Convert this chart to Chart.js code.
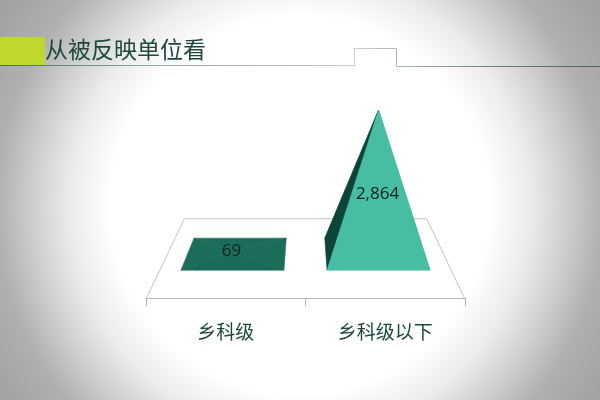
<!DOCTYPE html>
<html>
<head>
<meta charset="utf-8">
<script src="https://cdn.jsdelivr.net/npm/chart.js@4"></script>
<style>
    html, body { margin: 0; padding: 0; }
    body {
        width: 600px;
        height: 400px;
        overflow: hidden;
        background: radial-gradient(circle 370px at 300px 205px, #ffffff 0%, #ffffff 51%, #ececec 62%, #cfcfcf 72%, #b0b0b0 82%, #9e9e9e 100%);
    }
    #box { width: 600px; height: 400px; position: relative; }
</style>
</head>
<body>
<div id="box"><canvas id="chart"></canvas></div>
<script>
const titleText = '从被反映单位看';
const categories = ['乡科级', '乡科级以下'];
const values = [69, 2864];
const valueLabels = ['69', '2,864'];

const textColor = '#1d483e';
const faceColors = [
    { front: '#1a6c59', left: '#1b6d5a', right: '#1b6d5a', back: '#1b6d5a' },
    { front: '#47bda3', left: '#0d4438', right: '#47bda3', back: '#47bda3' }
];

function fillPoly(ctx, points, color) {
    ctx.beginPath();
    points.forEach((p, i) => i ? ctx.lineTo(p[0], p[1]) : ctx.moveTo(p[0], p[1]));
    ctx.closePath();
    ctx.fillStyle = color;
    ctx.strokeStyle = color;
    ctx.lineWidth = 0.6;
    ctx.fill();
    ctx.stroke();
}

// floor perspective: everything shrinks towards the middle as it goes back
function project(area, x, y) {
    const mid = (area.left + area.right) / 2;
    const s = 1 - 0.003 * (area.bottom - y);
    return [mid + (x - mid) * s, y];
}

const headerPlugin = {
    id: 'header',
    beforeDraw(chart) {
        const ctx = chart.ctx;
        ctx.save();
        ctx.fillStyle = '#c0d72f';
        ctx.fillRect(0, 37, 45, 29);

        const line = ctx.createLinearGradient(0, 0, 600, 0);
        line.addColorStop(0, '#4d6b63');
        line.addColorStop(0.25, '#8fa5a0');
        line.addColorStop(0.6, '#c4d0cd');
        line.addColorStop(0.8, '#71877f');
        line.addColorStop(1, '#4a5f59');
        ctx.strokeStyle = line;
        ctx.lineWidth = 1;
        ctx.beginPath();
        ctx.moveTo(0, 65.5);
        ctx.lineTo(354.5, 65.5);
        ctx.lineTo(354.5, 48.5);
        ctx.lineTo(396.5, 48.5);
        ctx.lineTo(396.5, 66.5);
        ctx.lineTo(600, 66.5);
        ctx.stroke();

        ctx.fillStyle = textColor;
        ctx.font = '23px "Noto Sans CJK SC"';
        ctx.textBaseline = 'middle';
        ctx.textAlign = 'left';
        ctx.fillText(titleText, 45, 49);
        ctx.restore();
    }
};

const floorPlugin = {
    id: 'floor',
    beforeDatasetsDraw(chart) {
        const ctx = chart.ctx;
        const a = chart.chartArea;
        const backY = a.bottom - 80;
        const bl = project(a, a.left, backY);
        const br = project(a, a.right, backY);
        ctx.save();
        ctx.strokeStyle = '#c4c4c4';
        ctx.lineWidth = 1;
        ctx.beginPath();
        ctx.moveTo(a.left + 0.5, a.bottom);
        ctx.lineTo(bl[0], backY + 0.5);
        ctx.lineTo(br[0], backY + 0.5);
        ctx.lineTo(a.right - 0.5, a.bottom);
        ctx.stroke();
        ctx.restore();
    }
};

const pyramidPlugin = {
    id: 'pyramid',
    afterDatasetsDraw(chart) {
        const ctx = chart.ctx;
        const a = chart.chartArea;
        const depth = 16;
        ctx.save();
        chart.getDatasetMeta(0).data.forEach((bar, i) => {
            const c = faceColors[i];
            const half = bar.width / 2;
            const baseY = bar.base;
            const fl = project(a, bar.x - half, baseY + depth);
            const fr = project(a, bar.x + half, baseY + depth);
            const bl = project(a, bar.x - half, baseY - depth);
            const br = project(a, bar.x + half, baseY - depth);
            const apex = [(fl[0] + fr[0]) / 2, bar.y];

            fillPoly(ctx, [bl, br, apex], c.back);
            fillPoly(ctx, [bl, fl, apex], c.left);
            fillPoly(ctx, [br, fr, apex], c.right);
            fillPoly(ctx, [fl, fr, apex], c.front);

            ctx.fillStyle = '#10211d';
            ctx.font = '17px "Open Sans"';
            ctx.textAlign = 'center';
            ctx.textBaseline = 'middle';
            const labelY = i === 0 ? bar.y : bar.y + 84;
            ctx.fillText(valueLabels[i], apex[0] - 1, labelY);
        });
        ctx.restore();
    }
};

new Chart(document.getElementById('chart'), {
    type: 'bar',
    data: {
        labels: categories,
        datasets: [{
            data: values,
            backgroundColor: 'transparent',
            barPercentage: 0.705,
            categoryPercentage: 1
        }]
    },
    plugins: [headerPlugin, floorPlugin, pyramidPlugin],
    options: {
        responsive: true,
        maintainAspectRatio: false,
        animation: false,
        layout: { padding: { left: 146, right: 135, top: 100, bottom: 43 } },
        plugins: {
            legend: { display: false },
            title: { display: false },
            tooltip: { enabled: false }
        },
        scales: {
            x: {
                grid: {
                    drawOnChartArea: false,
                    drawTicks: true,
                    tickLength: 8,
                    color: '#b4b4b4'
                },
                border: { color: '#b4b4b4' },
                ticks: {
                    color: textColor,
                    padding: 14,
                    maxRotation: 0,
                    font: { family: '"Noto Sans CJK SC"', size: 19 }
                }
            },
            y: {
                display: false,
                min: -875,
                max: 3063
            }
        }
    }
});
</script>
</body>
</html>
